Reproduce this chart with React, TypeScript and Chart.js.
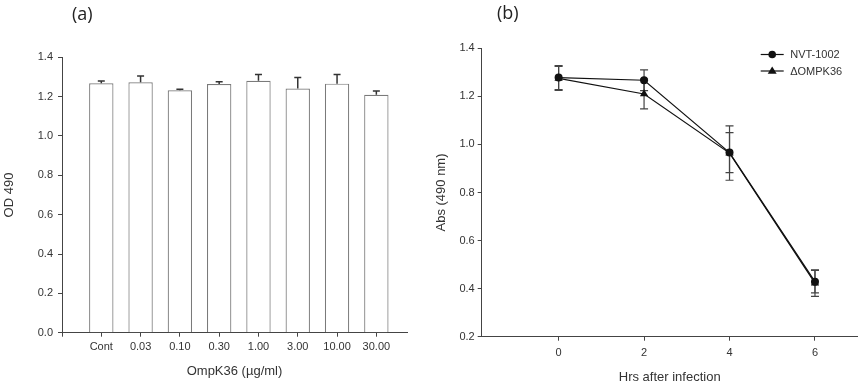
import React, { useEffect, useRef } from 'react';
import { Chart, registerables } from 'chart.js';

Chart.register(...registerables);

// ---------- Data: panel (a) ----------
const CONC_LABELS = ['Cont', '0.03', '0.10', '0.30', '1.00', '3.00', '10.00', '30.00'];
const OD_MEANS = [1.268, 1.273, 1.232, 1.264, 1.281, 1.241, 1.266, 1.210];
const OD_ERRORS = [0.012, 0.032, 0.005, 0.012, 0.031, 0.056, 0.046, 0.019];
const OD_TICKS = [0, 0.2, 0.4, 0.6, 0.8, 1.0, 1.2, 1.4];

// ---------- Data: panel (b) ----------
const HOURS = [0, 2, 4, 6];
const NVT_MEANS = [1.278, 1.267, 0.966, 0.429];
const NVT_ERRORS = [0.05, 0.043, 0.083, 0.047];
const DELTA_MEANS = [1.275, 1.210, 0.964, 0.423];
const DELTA_ERRORS = [0.05, 0.062, 0.113, 0.055];
const ABS_TICKS = [0.2, 0.4, 0.6, 0.8, 1.0, 1.2, 1.4];
const SERIES_NAMES = ['NVT-1002', '\u0394OMPK36'];

const FONT = '"Liberation Sans", Arial, sans-serif';
const AXIS_COLOR = '#444';
const TEXT_COLOR = '#333';

Chart.defaults.font.family = FONT;

function errorBarPlugin(mode: 'up' | 'both', before: boolean, capHalf: number, color: string, width: number) {
  const draw = (chart: any) => {
    const ctx = chart.ctx;
    const yScale = chart.scales.y;
    chart.data.datasets.forEach((ds: any, di: number) => {
      const errs = ds.errors as number[] | undefined;
      if (!errs) return;
      const meta = chart.getDatasetMeta(di);
      meta.data.forEach((el: any, i: number) => {
        const raw = ds.data[i];
        const v = typeof raw === 'object' ? raw.y : raw;
        const x = el.x;
        const yTop = yScale.getPixelForValue(v + errs[i]);
        const yBot = yScale.getPixelForValue(mode === 'up' ? v : v - errs[i]);
        ctx.save();
        ctx.strokeStyle = color;
        ctx.lineWidth = width;
        ctx.beginPath();
        ctx.moveTo(x, yTop);
        ctx.lineTo(x, yBot);
        ctx.moveTo(x - capHalf, yTop);
        ctx.lineTo(x + capHalf, yTop);
        if (mode === 'both') {
          ctx.moveTo(x - capHalf, yBot);
          ctx.lineTo(x + capHalf, yBot);
        }
        ctx.stroke();
        ctx.restore();
      });
    });
  };
  return before
    ? { id: 'errorBars', beforeDatasetsDraw: draw }
    : { id: 'errorBars', afterDatasetsDraw: draw };
}

function panelLabelPlugin(text: string, x: number, y: number) {
  return {
    id: 'panelLabel',
    afterDraw(chart: any) {
      const ctx = chart.ctx;
      ctx.save();
      ctx.font = '18px "Open Sans", sans-serif';
      ctx.fillStyle = '#222';
      ctx.textBaseline = 'middle';
      ctx.textAlign = 'left';
      ctx.fillText(text, x, y);
      ctx.restore();
    },
  };
}

function drawMarker(ctx: CanvasRenderingContext2D, style: string, x: number, y: number, r: number) {
  ctx.beginPath();
  if (style === 'triangle') {
    ctx.moveTo(x, y - r);
    ctx.lineTo(x + 0.866 * r * 1.15, y + 0.6 * r);
    ctx.lineTo(x - 0.866 * r * 1.15, y + 0.6 * r);
    ctx.closePath();
  } else {
    ctx.arc(x, y, r, 0, Math.PI * 2);
  }
  ctx.fill();
}

const lineLegendPlugin = {
  id: 'lineLegend',
  afterDraw(chart: any) {
    const ctx = chart.ctx;
    const area = chart.chartArea;
    const x0 = area.right - 97;
    chart.data.datasets.forEach((ds: any, i: number) => {
      const y = area.top + 6.2 + i * 16.5;
      ctx.save();
      ctx.strokeStyle = '#111';
      ctx.lineWidth = 1.2;
      ctx.beginPath();
      ctx.moveTo(x0, y);
      ctx.lineTo(x0 + 23, y);
      ctx.stroke();
      ctx.fillStyle = '#111';
      drawMarker(ctx, ds.pointStyle, x0 + 11.5, y, ds.pointStyle === 'triangle' ? 4.5 : 3.8);
      ctx.font = `11px ${FONT}`;
      ctx.fillStyle = TEXT_COLOR;
      ctx.textBaseline = 'middle';
      ctx.textAlign = 'left';
      ctx.fillText(ds.label, x0 + 29.5, y + 0.5);
      ctx.restore();
    });
  },
};

function BarPanel() {
  const ref = useRef<HTMLCanvasElement>(null);
  useEffect(() => {
    if (!ref.current) return;
    const positions = CONC_LABELS.map((_, i) => i);
    const chart = new Chart(ref.current, {
      type: 'bar',
      data: {
        datasets: [
          {
            label: 'OD 490',
            data: positions.map((p, i) => ({ x: p, y: OD_MEANS[i] })),
            backgroundColor: '#ffffff',
            borderColor: '#7a7a7a',
            borderWidth: 1.2,
            barPercentage: 0.62,
            categoryPercentage: 1,
            errors: OD_ERRORS,
          } as any,
        ],
      },
      options: {
        animation: false,
        responsive: false,
        layout: { padding: { left: 0, top: 57.3, right: 23, bottom: 0 } },
        plugins: { legend: { display: false }, tooltip: { enabled: false } },
        scales: {
          x: {
            type: 'linear',
            min: -1,
            max: 7.78,
            offset: false,
            grid: { display: true, drawOnChartArea: false, drawTicks: true, tickLength: 4, color: AXIS_COLOR, offset: false },
            border: { display: true, color: AXIS_COLOR, width: 1 },
            afterBuildTicks: (s: any) => {
              s.ticks = [-1, ...positions].map((v) => ({ value: v }));
            },
            ticks: {
              autoSkip: false,
              maxRotation: 0,
              padding: 4,
              color: TEXT_COLOR,
              font: { size: 11 },
              callback: (v: any) => CONC_LABELS[Math.round(Number(v))] ?? '',
            },
            title: {
              display: true,
              text: 'OmpK36 (\u00b5g/ml)',
              color: TEXT_COLOR,
              font: { size: 13 },
              padding: { top: 0, bottom: 10.5 },
            },
            afterFit: (s: any) => {
              s.height = 57.3;
            },
          },
          y: {
            type: 'linear',
            min: 0,
            max: 1.4,
            grid: { display: true, drawOnChartArea: false, drawTicks: true, tickLength: 4, color: AXIS_COLOR },
            border: { display: true, color: AXIS_COLOR, width: 1 },
            afterBuildTicks: (s: any) => {
              s.ticks = OD_TICKS.map((v) => ({ value: v }));
            },
            ticks: {
              padding: 5,
              color: TEXT_COLOR,
              font: { size: 11 },
              callback: (v: any) => Number(v).toFixed(1),
            },
            title: {
              display: true,
              text: 'OD 490',
              color: TEXT_COLOR,
              font: { size: 13 },
              padding: { top: 2, bottom: 0 },
            },
            afterFit: (s: any) => {
              s.width = 62;
            },
          },
        },
      } as any,
      plugins: [errorBarPlugin('up', false, 3.5, '#333', 1.5), panelLabelPlugin('(a)', 72, 15)],
    });
    return () => chart.destroy();
  }, []);
  return (
    <canvas
      ref={ref}
      width={430}
      height={390}
      style={{ position: 'absolute', left: 0, top: 0, width: 430, height: 390 }}
    />
  );
}

function LinePanel() {
  const ref = useRef<HTMLCanvasElement>(null);
  useEffect(() => {
    if (!ref.current) return;
    const chart = new Chart(ref.current, {
      type: 'line',
      data: {
        datasets: [
          {
            label: SERIES_NAMES[0],
            data: HOURS.map((h, i) => ({ x: h, y: NVT_MEANS[i] })),
            borderColor: '#111',
            backgroundColor: '#111',
            borderWidth: 1.2,
            pointStyle: 'circle',
            pointRadius: 4,
            pointBackgroundColor: '#111',
            pointBorderColor: '#111',
            pointBorderWidth: 0,
            tension: 0,
            errors: NVT_ERRORS,
          } as any,
          {
            label: SERIES_NAMES[1],
            data: HOURS.map((h, i) => ({ x: h, y: DELTA_MEANS[i] })),
            borderColor: '#111',
            backgroundColor: '#111',
            borderWidth: 1.2,
            pointStyle: 'triangle',
            pointRadius: 4.8,
            pointBackgroundColor: '#111',
            pointBorderColor: '#111',
            pointBorderWidth: 0,
            tension: 0,
            errors: DELTA_ERRORS,
          } as any,
        ],
      },
      options: {
        animation: false,
        responsive: false,
        layout: { padding: { left: 0, top: 48.3, right: 8.3, bottom: 0 } },
        plugins: { legend: { display: false }, tooltip: { enabled: false } },
        scales: {
          x: {
            type: 'linear',
            min: -1.8,
            max: 7,
            grid: { display: true, drawOnChartArea: false, drawTicks: true, tickLength: 4, color: AXIS_COLOR },
            border: { display: true, color: AXIS_COLOR, width: 1 },
            afterBuildTicks: (s: any) => {
              s.ticks = HOURS.map((v) => ({ value: v }));
            },
            ticks: {
              autoSkip: false,
              maxRotation: 0,
              padding: 6,
              color: TEXT_COLOR,
              font: { size: 11 },
              callback: (v: any) => String(v),
            },
            title: {
              display: true,
              text: 'Hrs after infection',
              color: TEXT_COLOR,
              font: { size: 13 },
              padding: { top: 0, bottom: 5.2 },
            },
            afterFit: (s: any) => {
              s.height = 53.3;
            },
          },
          y: {
            type: 'linear',
            min: 0.2,
            max: 1.4,
            grid: { display: true, drawOnChartArea: false, drawTicks: true, tickLength: 4, color: AXIS_COLOR },
            border: { display: true, color: AXIS_COLOR, width: 1 },
            afterBuildTicks: (s: any) => {
              s.ticks = ABS_TICKS.map((v) => ({ value: v }));
            },
            ticks: {
              padding: 3,
              color: TEXT_COLOR,
              font: { size: 11 },
              callback: (v: any) => Number(v).toFixed(1),
            },
            title: {
              display: true,
              text: 'Abs (490 nm)',
              color: TEXT_COLOR,
              font: { size: 13 },
              padding: { top: 4, bottom: 0 },
            },
            afterFit: (s: any) => {
              s.width = 51.7;
            },
          },
        },
      } as any,
      plugins: [errorBarPlugin('both', true, 4, '#444', 1.2), lineLegendPlugin, panelLabelPlugin('(b)', 67, 14)],
    });
    return () => chart.destroy();
  }, []);
  return (
    <canvas
      ref={ref}
      width={436}
      height={390}
      style={{ position: 'absolute', left: 430, top: 0, width: 436, height: 390 }}
    />
  );
}

export default function App() {
  return (
    <div style={{ position: 'fixed', left: 0, top: 0, width: 866, height: 390, background: '#fff', overflow: 'hidden' }}>
      <BarPanel />
      <LinePanel />
    </div>
  );
}
